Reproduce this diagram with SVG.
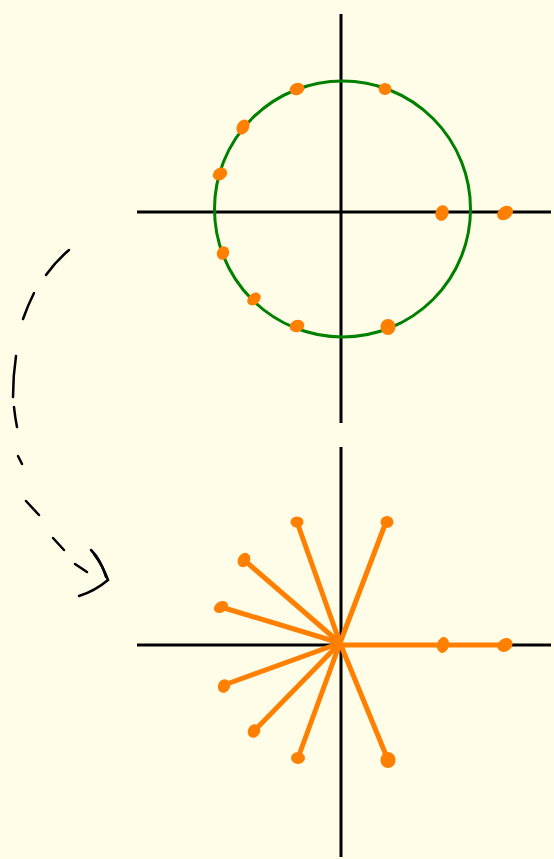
<svg xmlns="http://www.w3.org/2000/svg" width="554" height="859" viewBox="0 0 554 859">
<style>
.axis{stroke:#000;stroke-width:3;fill:none}
.ray{stroke:#ff8000;stroke-width:5;stroke-linecap:round;fill:none}
.dot{fill:#ff8000}
.dash{stroke:#000;stroke-width:2.5;stroke-linecap:round;fill:none}
</style>
<rect width="554" height="859" fill="#fffde8"/>
<g id="top-plot">
<line class="axis" x1="137" y1="212" x2="551" y2="212"/>
<line class="axis" x1="341" y1="14" x2="341" y2="423"/>
<circle cx="342.5" cy="209" r="128" fill="none" stroke="#008000" stroke-width="3"/>
<g id="top-dots">
<ellipse class="dot" cx="297" cy="89" rx="7.5" ry="6" transform="rotate(-20 297 89)"/>
<ellipse class="dot" cx="385" cy="89" rx="6.5" ry="6"/>
<ellipse class="dot" cx="243" cy="127" rx="6" ry="8" transform="rotate(30 243 127)"/>
<ellipse class="dot" cx="220" cy="174" rx="7.5" ry="6" transform="rotate(-30 220 174)"/>
<ellipse class="dot" cx="442" cy="213" rx="6.5" ry="8" transform="rotate(20 442 213)"/>
<ellipse class="dot" cx="505" cy="213" rx="8.5" ry="6.5" transform="rotate(-35 505 213)"/>
<ellipse class="dot" cx="223" cy="253" rx="6" ry="7" transform="rotate(25 223 253)"/>
<ellipse class="dot" cx="254" cy="299" rx="7.5" ry="5.5" transform="rotate(-40 254 299)"/>
<ellipse class="dot" cx="297" cy="326" rx="7.5" ry="6" transform="rotate(-20 297 326)"/>
<ellipse class="dot" cx="388" cy="327" rx="7.5" ry="8"/>
</g>
</g>
<g id="bottom-plot">
<line class="axis" x1="137" y1="645" x2="551" y2="645"/>
<line class="axis" x1="341" y1="447" x2="341" y2="857"/>
<g id="rays">
<line class="ray" x1="340" y1="643" x2="297" y2="522"/>
<line class="ray" x1="340" y1="643" x2="386" y2="522"/>
<line class="ray" x1="340" y1="643" x2="244" y2="560"/>
<line class="ray" x1="340" y1="643" x2="221" y2="607"/>
<line class="ray" x1="340" y1="645" x2="504" y2="645"/>
<line class="ray" x1="340" y1="643" x2="224" y2="685"/>
<line class="ray" x1="340" y1="643" x2="254" y2="731"/>
<line class="ray" x1="340" y1="643" x2="298" y2="758"/>
<line class="ray" x1="340" y1="643" x2="388" y2="760"/>
</g>
<g id="bottom-dots">
<ellipse class="dot" cx="297" cy="522" rx="6.5" ry="5.5"/>
<ellipse class="dot" cx="387" cy="522" rx="6.5" ry="6"/>
<ellipse class="dot" cx="244" cy="560" rx="6" ry="7.5" transform="rotate(30 244 560)"/>
<ellipse class="dot" cx="221" cy="607" rx="7.5" ry="5.5" transform="rotate(-30 221 607)"/>
<ellipse class="dot" cx="443" cy="645" rx="6" ry="8" transform="rotate(15 443 645)"/>
<ellipse class="dot" cx="505" cy="645" rx="8" ry="6.5" transform="rotate(-35 505 645)"/>
<ellipse class="dot" cx="224" cy="686" rx="6" ry="7" transform="rotate(25 224 686)"/>
<ellipse class="dot" cx="254" cy="731" rx="6" ry="7" transform="rotate(30 254 731)"/>
<ellipse class="dot" cx="298" cy="758" rx="7" ry="6"/>
<ellipse class="dot" cx="388" cy="760" rx="7.5" ry="8"/>
</g>
</g>
<g id="connectors">
<path class="dash" d="M69 250 Q56 261 46 275" stroke-width="3.5"/>
<path class="dash" d="M34 293 Q28 305 23 319" stroke-width="3"/>
<path class="dash" d="M16 356 Q13 376 13 397" stroke-width="3.5"/>
<path class="dash" d="M14 407 Q15 417 17 427" stroke-width="3"/>
<path class="dash" d="M18 456 L22 464" stroke-width="2.5"/>
<path class="dash" d="M26 501 L39 515" stroke-width="2.5"/>
<path class="dash" d="M53 538 L64 550" stroke-width="2.5"/>
<path class="dash" d="M75 564 L87 572" stroke-width="2.5"/>
<path class="dash" d="M91 550 Q101 560 106 577" stroke-width="6.5"/>
<path class="dash" d="M94 554 Q103 566 108 580 Q95 591 79 596" stroke-width="4"/>
</g>
</svg>
